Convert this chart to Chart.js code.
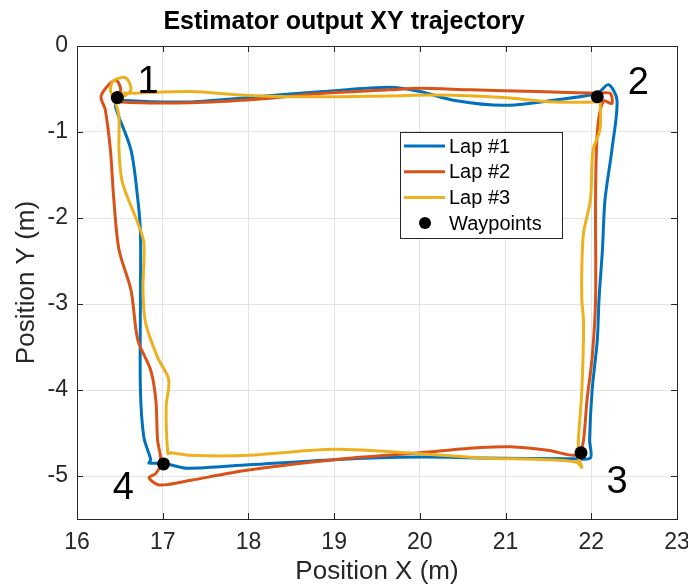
<!DOCTYPE html>
<html>
<head>
<meta charset="utf-8">
<script src="https://cdn.jsdelivr.net/npm/chart.js@4.4.1/dist/chart.umd.min.js"></script>
<style>
  html, body { margin: 0; padding: 0; background: #fff; }
  #wrap { width: 688px; height: 585px; }
</style>
</head>
<body>
<div id="wrap"><canvas id="chart"></canvas></div>
<script>
// Lap trajectories (m)
const lap1X = [16.46,16.51,17.33,18.10,18.87,19.65,20.00,20.39,20.97,21.56,22.07,22.20,22.30,22.24,22.16,22.13,22.09,22.07,22.01,21.98,21.99,21.81,20.71,20.00,19.00,18.00,17.29,17.09,17.01,16.84,16.86,16.78,16.74,16.74,16.74,16.71,16.63,16.45,16.46];
const lap1Y = [-0.60,-0.63,-0.65,-0.59,-0.53,-0.48,-0.53,-0.63,-0.69,-0.63,-0.55,-0.45,-0.63,-1.21,-1.79,-2.37,-2.95,-3.42,-4.00,-4.58,-4.79,-4.80,-4.79,-4.78,-4.81,-4.87,-4.91,-4.87,-4.85,-4.85,-4.81,-4.55,-4.00,-2.95,-2.17,-1.79,-1.21,-0.71,-0.60];

const lap2X = [16.46,16.51,17.33,18.10,18.87,19.65,20.00,20.59,21.37,22.07,22.22,22.24,22.14,22.07,22.05,22.05,22.01,21.95,21.91,21.87,21.79,21.49,21.05,20.71,20.00,19.00,18.00,17.33,17.06,16.94,16.84,16.92,16.98,16.94,16.92,16.86,16.71,16.63,16.49,16.43,16.39,16.33,16.28,16.37,16.46,16.51,16.46];
const lap2Y = [-0.60,-0.65,-0.66,-0.62,-0.55,-0.51,-0.49,-0.51,-0.53,-0.55,-0.55,-0.67,-0.64,-1.01,-1.79,-2.95,-3.62,-4.12,-4.58,-4.72,-4.76,-4.70,-4.66,-4.67,-4.73,-4.81,-4.93,-5.05,-5.10,-5.10,-5.02,-4.97,-4.84,-4.58,-4.12,-3.77,-3.42,-2.84,-2.37,-1.79,-1.21,-0.74,-0.59,-0.45,-0.40,-0.51,-0.60];

const lap3X = [16.46,16.53,16.63,17.33,17.91,18.49,19.65,20.20,20.97,21.56,22.07,22.10,22.10,22.02,21.99,21.91,21.89,21.89,21.91,21.89,21.85,21.85,21.89,21.83,21.49,20.71,20.00,19.00,18.00,17.33,17.09,17.06,17.04,17.07,16.94,16.80,16.77,16.78,16.71,16.53,16.49,16.49,16.45,16.39,16.43,16.57,16.63,16.53];
const lap3Y = [-0.60,-0.55,-0.55,-0.53,-0.57,-0.59,-0.58,-0.57,-0.60,-0.65,-0.65,-0.63,-0.98,-1.21,-1.79,-2.17,-2.57,-2.95,-3.22,-4.00,-4.58,-4.78,-4.90,-4.84,-4.81,-4.79,-4.74,-4.69,-4.76,-4.76,-4.73,-4.74,-4.20,-3.88,-3.62,-3.22,-2.84,-2.29,-2.06,-1.59,-1.21,-0.83,-0.66,-0.51,-0.40,-0.37,-0.51,-0.60];

// Waypoints and their number labels
const wpX = [16.47, 22.07, 21.88, 17.01];
const wpY = [-0.60, -0.59, -4.73, -4.86];
const wpNames = ['1', '2', '3', '4'];
const wpLabelX = [16.83, 22.55, 22.30, 16.54];
const wpLabelY = [-0.42, -0.44, -5.08, -5.15];

const xTicks = [16, 17, 18, 19, 20, 21, 22, 23];
const yTicks = [0, -1, -2, -3, -4, -5];

const axisColor = '#262626';
const fontFamily = '"Liberation Sans", Arial, Helvetica, sans-serif';

function toPoints(xs, ys) {
    return xs.map((x, i) => ({ x: x, y: ys[i] }));
}

function lapDataset(label, xs, ys, color, order) {
    return {
        label: label,
        data: toPoints(xs, ys),
        showLine: true,
        borderColor: color,
        backgroundColor: color,
        borderWidth: 3,
        pointRadius: 0,
        tension: 0.3,
        order: order
    };
}

// Box, inward ticks, waypoint numbers and legend
const matlabPlugin = {
    id: 'matlabExtras',
    afterDatasetsDraw(chart) {
        const ctx = chart.ctx;
        const area = chart.chartArea;
        const xs = chart.scales.x;
        const ys = chart.scales.y;

        ctx.save();
        ctx.fillStyle = '#000';
        ctx.font = '38px ' + fontFamily;
        ctx.textAlign = 'center';
        ctx.textBaseline = 'middle';
        wpNames.forEach((name, i) => {
            ctx.fillText(name, xs.getPixelForValue(wpLabelX[i]), ys.getPixelForValue(wpLabelY[i]));
        });

        ctx.strokeStyle = axisColor;
        ctx.lineWidth = 1;
        ctx.strokeRect(Math.round(area.left) + 0.5, Math.round(area.top) + 0.5,
            Math.round(area.right - area.left), Math.round(area.bottom - area.top));

        const tl = 6;
        ctx.beginPath();
        xTicks.forEach(v => {
            const px = Math.round(xs.getPixelForValue(v)) + 0.5;
            ctx.moveTo(px, area.bottom); ctx.lineTo(px, area.bottom - tl);
            ctx.moveTo(px, area.top); ctx.lineTo(px, area.top + tl);
        });
        yTicks.forEach(v => {
            const py = Math.round(ys.getPixelForValue(v)) + 0.5;
            ctx.moveTo(area.left, py); ctx.lineTo(area.left + tl, py);
            ctx.moveTo(area.right, py); ctx.lineTo(area.right - tl, py);
        });
        ctx.stroke();
        ctx.restore();
    },
    afterDraw(chart) {
        const ctx = chart.ctx;
        const boxL = 400, boxT = 132, boxW = 162, boxH = 106;
        const rowH = 25.7;
        ctx.save();
        ctx.fillStyle = '#fff';
        ctx.fillRect(boxL, boxT, boxW, boxH);
        ctx.strokeStyle = '#262626';
        ctx.lineWidth = 1;
        ctx.strokeRect(boxL + 0.5, boxT + 0.5, boxW, boxH);

        ctx.font = '20px ' + fontFamily;
        ctx.textBaseline = 'middle';
        ctx.textAlign = 'left';
        chart.data.datasets.forEach((ds, i) => {
            const cy = boxT + 14 + i * rowH;
            if (ds.showLine) {
                ctx.strokeStyle = ds.borderColor;
                ctx.lineWidth = 3;
                ctx.beginPath();
                ctx.moveTo(boxL + 4, cy);
                ctx.lineTo(boxL + 45, cy);
                ctx.stroke();
            } else {
                ctx.fillStyle = ds.backgroundColor;
                ctx.beginPath();
                ctx.arc(boxL + 25, cy, 6, 0, Math.PI * 2);
                ctx.fill();
            }
            ctx.fillStyle = '#000';
            ctx.fillText(ds.label, boxL + 49, cy + 1);
        });
        ctx.restore();
    }
};

const ctx = document.getElementById('chart').getContext('2d');
new Chart(ctx, {
    type: 'scatter',
    data: {
        datasets: [
            lapDataset('Lap #1', lap1X, lap1Y, '#0072BD', 4),
            lapDataset('Lap #2', lap2X, lap2Y, '#D95319', 3),
            lapDataset('Lap #3', lap3X, lap3Y, '#EDB120', 2),
            {
                label: 'Waypoints',
                data: toPoints(wpX, wpY),
                showLine: false,
                pointRadius: 6.5,
                pointHoverRadius: 6.5,
                backgroundColor: '#000',
                borderColor: '#000',
                borderWidth: 0,
                order: 1
            }
        ]
    },
    options: {
        responsive: true,
        maintainAspectRatio: false,
        animation: false,
        layout: { padding: { left: 0, right: 0, top: 0, bottom: 0 } },
        plugins: {
            legend: { display: false },
            tooltip: { enabled: false },
            title: {
                display: true,
                text: 'Estimator output XY trajectory',
                color: '#000',
                font: { family: fontFamily, size: 25, weight: 'bold', lineHeight: 1.2 },
                padding: { top: 7, bottom: 9 }
            }
        },
        scales: {
            x: {
                type: 'linear',
                min: 16,
                max: 23,
                afterBuildTicks: scale => { scale.ticks = xTicks.map(v => ({ value: v })); },
                afterFit: scale => {
                    scale.height = 66;
                    scale.paddingLeft = 0;
                    scale.paddingRight = 11;
                },
                ticks: {
                    color: axisColor,
                    font: { family: fontFamily, size: 23 },
                    padding: 10,
                    maxRotation: 0
                },
                grid: { color: '#e3e3e3', drawTicks: false },
                border: { display: false },
                title: {
                    display: true,
                    text: 'Position X (m)',
                    color: axisColor,
                    font: { family: fontFamily, size: 26, lineHeight: 1 },
                    padding: { top: 0, bottom: 0 }
                }
            },
            y: {
                type: 'linear',
                min: -5.5,
                max: 0,
                afterBuildTicks: scale => { scale.ticks = yTicks.map(v => ({ value: v })); },
                afterFit: scale => { scale.width = 77; },
                ticks: {
                    color: axisColor,
                    font: { family: fontFamily, size: 23 },
                    padding: 9
                },
                grid: { color: '#e3e3e3', drawTicks: false },
                border: { display: false },
                title: {
                    display: true,
                    text: 'Position Y (m)',
                    color: axisColor,
                    font: { family: fontFamily, size: 26, lineHeight: 1 },
                    padding: { top: 14, bottom: 0 }
                }
            }
        }
    },
    plugins: [matlabPlugin]
});
</script>
</body>
</html>
